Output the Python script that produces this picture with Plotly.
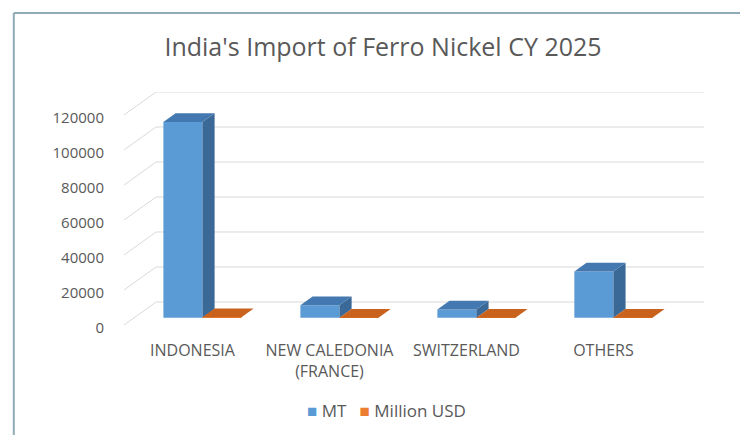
import plotly.graph_objects as go

# Import volumes by source country
categories = ["INDONESIA", "NEW CALEDONIA<br>(FRANCE)", "SWITZERLAND", "OTHERS"]
mt_values = [112000, 7200, 4800, 26500]
usd_values = [290, 19, 13, 70]
series_names = ["MT", "Million USD"]
y_ticks = [0, 20000, 40000, 60000, 80000, 100000, 120000]

# Oblique 3D projection settings (depth offset in axis units)
DX = 0.234
DY = 13150
D0, D1 = 0.31, 0.69      # depth slice occupied by the columns
BAR_W = 0.285

colors = {
    "MT": {"front": "#5B9BD5", "side": "#3A6998", "top": "#4478B0"},
    "Million USD": {"front": "#ED7D31", "side": "#B8571A", "top": "#C9621C"},
}
grid_color = "#D9D9D9"
text_color = "#595959"
font_family = "Open Sans, Liberation Sans, sans-serif"

fig = go.Figure()

# Back-wall and side-wall gridlines, kept beneath the columns
y_top = y_ticks[-1]
x_left = -0.5
x_right = len(categories) - 0.5
for v in y_ticks:
    fig.add_shape(type="line", xref="x", yref="y", layer="below",
                  x0=x_left, y0=v, x1=x_left + DX, y1=v + DY,
                  line=dict(color=grid_color, width=1))
    fig.add_shape(type="line", xref="x", yref="y", layer="below",
                  x0=x_left + DX, y0=v + DY, x1=x_right + DX, y1=v + DY,
                  line=dict(color=grid_color, width=1))

# Front faces of the columns
for s_idx, (name, vals) in enumerate(zip(series_names, [mt_values, usd_values])):
    fig.add_trace(go.Bar(
        x=[i + D0 * DX for i in range(len(categories))],
        y=vals,
        base=[D0 * DY] * len(vals),
        width=BAR_W,
        offset=-BAR_W if s_idx == 0 else 0,
        marker=dict(color=colors[name]["front"], line=dict(width=0)),
        showlegend=False, hoverinfo="skip",
    ))

# Side and top faces, drawn per category so the right-hand column overlaps
for i in range(len(categories)):
    for s_idx, (name, vals) in enumerate(zip(series_names, [mt_values, usd_values])):
        v = vals[i]
        x0 = i - BAR_W if s_idx == 0 else i
        x1 = x0 + BAR_W
        # right side face
        fig.add_trace(go.Scatter(
            x=[x1 + D0 * DX, x1 + D1 * DX, x1 + D1 * DX, x1 + D0 * DX, x1 + D0 * DX],
            y=[D0 * DY, D1 * DY, v + D1 * DY, v + D0 * DY, D0 * DY],
            mode="lines", fill="toself", fillcolor=colors[name]["side"],
            line=dict(width=0, color=colors[name]["side"]),
            hoverinfo="skip", showlegend=False,
        ))
        # top face
        fig.add_trace(go.Scatter(
            x=[x0 + D0 * DX, x1 + D0 * DX, x1 + D1 * DX, x0 + D1 * DX, x0 + D0 * DX],
            y=[v + D0 * DY, v + D0 * DY, v + D1 * DY, v + D1 * DY, v + D0 * DY],
            mode="lines", fill="toself", fillcolor=colors[name]["top"],
            line=dict(width=0, color=colors[name]["top"]),
            hoverinfo="skip", showlegend=False,
        ))

# Legend row: coloured squares followed by the series names
legend_text = "&nbsp;&nbsp;&nbsp;".join(
    f'<span style="color:{colors[n]["front"]}">■</span> {n}' for n in series_names
)
fig.add_annotation(
    xref="paper", yref="paper", x=0.452, y=-0.369,
    xanchor="center", yanchor="middle", showarrow=False,
    text=legend_text,
    font=dict(family=font_family, size=17, color=text_color),
)

# Chart frame (top and left edges)
frame = dict(color="#8FAAB8", width=2)
fig.add_shape(type="line", xref="paper", yref="paper",
              x0=-0.19, x1=1.07, y0=1.339, y1=1.339, line=frame)
fig.add_shape(type="line", xref="paper", yref="paper",
              x0=-0.19, x1=-0.19, y0=1.339, y1=-0.5, line=frame)

fig.update_layout(
    width=740, height=435,
    margin=dict(l=124, r=36, t=92, b=110, autoexpand=False),
    paper_bgcolor="#FFFFFF", plot_bgcolor="#FFFFFF",
    barmode="overlay",
    showlegend=False,
    title=dict(
        text="India's Import of Ferro Nickel CY 2025",
        x=0.5176, xanchor="center", y=0.892, yanchor="middle",
        font=dict(family=font_family, size=25, color=text_color),
    ),
    xaxis=dict(
        range=[x_left, x_right + DX],
        tickmode="array", tickvals=list(range(len(categories))), ticktext=categories,
        showgrid=False, zeroline=False, showline=False,
        ticks="outside", ticklen=11, tickcolor="rgba(0,0,0,0)",
        tickfont=dict(family=font_family, size=16, color=text_color),
        fixedrange=True,
    ),
    yaxis=dict(
        range=[0, y_top + DY],
        tickmode="array", tickvals=y_ticks, ticktext=[str(t) for t in y_ticks],
        showgrid=False, zeroline=False, showline=False,
        ticks="outside", ticklen=16, tickcolor="rgba(0,0,0,0)",
        ticklabelshift=3,
        tickfont=dict(family=font_family, size=15, color=text_color),
        fixedrange=True,
    ),
)

fig.write_html("out.html")
